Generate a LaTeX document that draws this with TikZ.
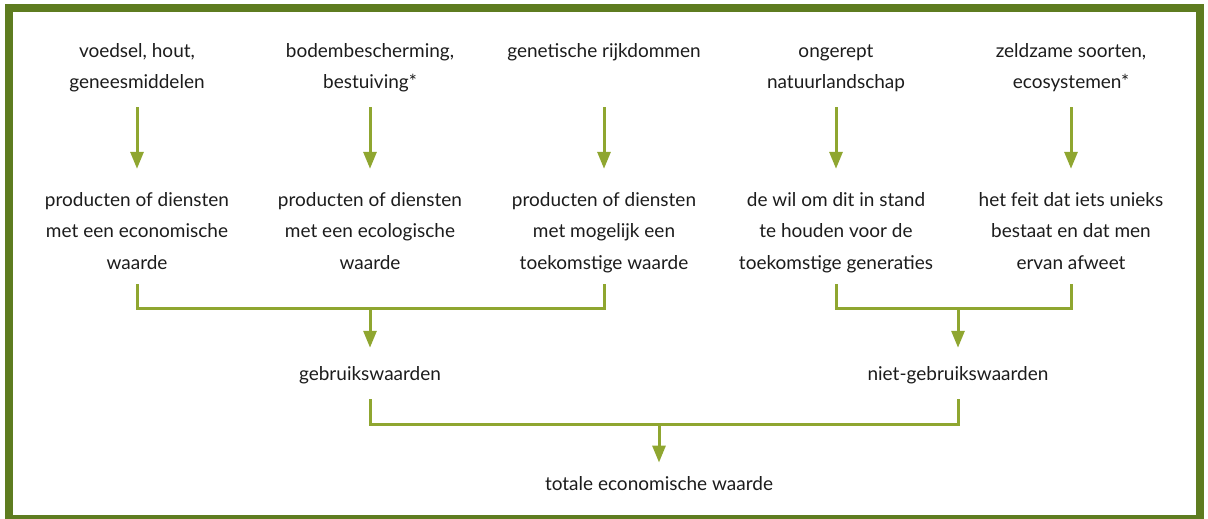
\documentclass[tikz,border=0pt]{standalone}
\usepackage{fontspec}
\setmainfont{Lato}
\usetikzlibrary{arrows.meta, positioning, calc}

\definecolor{framegreen}{RGB}{94,124,32}
\definecolor{linegreen}{RGB}{143,166,48}
\definecolor{textgray}{RGB}{28,28,28}

\begin{document}
\begin{tikzpicture}[x=1pt, y=-1pt,
    lbl/.style={align=center, inner sep=0pt, anchor=base, text=textgray,
        font=\fontsize{19}{31.5}\selectfont,
        execute at begin node=\strut, execute at end node=\strut},
    line/.style={draw=linegreen, line width=3pt},
    arr/.style={line, -{Triangle[width=13pt, length=17pt]}}]
    \useasboundingbox (0,0) rectangle (1208,519);
    \draw[framegreen, line width=8pt] (9,8) rectangle (1200,519);

    \node[lbl] (t1) at (137,88.5) {voedsel, hout,\\geneesmiddelen};
    \node[lbl] (t2) at (370,88.5) {bodembescherming,\\bestuiving*};
    \node[lbl] (t3) at (604,88.5) {genetische rijkdommen\\\mbox{}};
    \node[lbl] (t4) at (836,88.5) {ongerept\\natuurlandschap};
    \node[lbl] (t5) at (1071,88.5) {zeldzame soorten,\\ecosystemen*};

    \node[lbl] (m1) at (137,269) {producten of diensten\\met een economische\\waarde};
    \node[lbl] (m2) at (370,269) {producten of diensten\\met een ecologische\\waarde};
    \node[lbl] (m3) at (604,269) {producten of diensten\\met mogelijk een\\toekomstige waarde};
    \node[lbl] (m4) at (836,269) {de wil om dit in stand\\te houden voor de\\toekomstige generaties};
    \node[lbl] (m5) at (1071,269) {het feit dat iets unieks\\bestaat en dat men\\ervan afweet};

    \node[lbl] (use) at (370,380) {gebruikswaarden};
    \node[lbl] (nonuse) at (958,380) {niet-gebruikswaarden};
    \node[lbl] (total) at (659,490.5) {totale economische waarde};

    \coordinate (juse) at (370,308);
    \coordinate (jnon) at (958,308);
    \coordinate (jtot) at (659,424);

    \foreach \i in {1,...,5}
        \draw[arr, shorten <=9pt, shorten >=23pt] (t\i) -- (m\i);

    \draw[line, shorten <=5.5pt, shorten >=5.5pt] (m1.south) |- (juse) -| (m3.south);
    \draw[line, shorten <=5.5pt, shorten >=5.5pt] (m4.south) |- (jnon) -| (m5.south);
    \draw[arr, shorten >=10pt] (juse) -- (use);
    \draw[arr, shorten >=10pt] (jnon) -- (nonuse);

    \draw[line, shorten <=9.5pt, shorten >=9.5pt] (use.south) |- (jtot) -| (nonuse.south);
    \draw[arr, shorten >=5.7pt] (jtot) -- (total);
\end{tikzpicture}
\end{document}
